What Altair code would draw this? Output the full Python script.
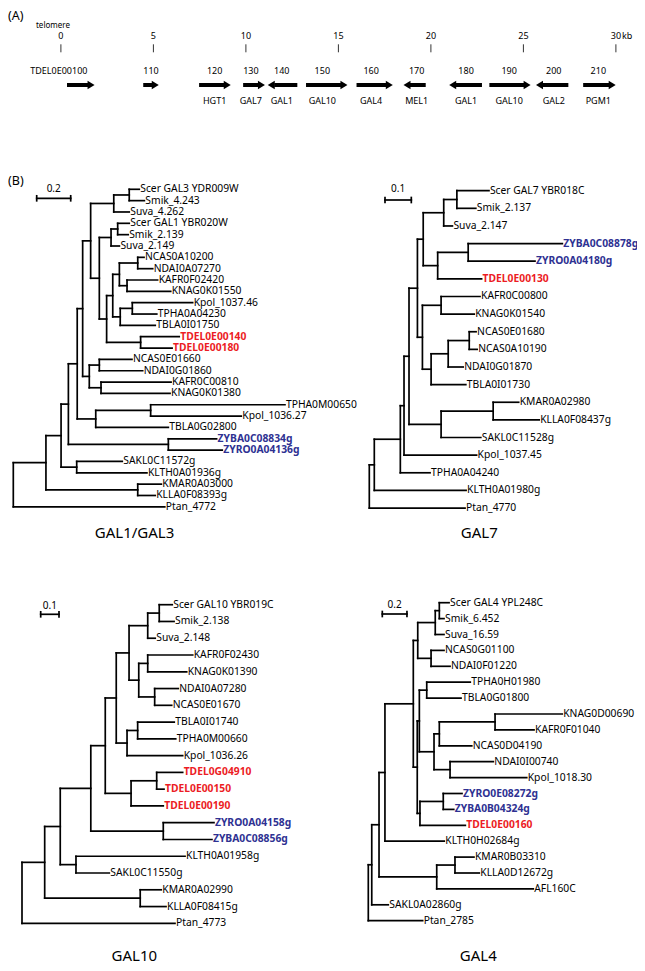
import altair as alt
import pandas as pd

# ---------------- Panel A data: gene map (kb) ----------------
ruler_kb = [0, 5, 10, 15, 20, 25, 30]
ruler_labels = ["0", "5", "10", "15", "20", "25", "30"]
gene_ids = ["TDEL0E00100", "110", "120", "130", "140", "150", "160", "170", "180", "190", "200", "210"]
gene_names = ["", "", "HGT1", "GAL7", "GAL1", "GAL10", "GAL4", "MEL1", "GAL1", "GAL10", "GAL2", "PGM1"]
gene_start_kb = [0.33, 4.45, 7.47, 9.85, 11.18, 13.25, 15.98, 18.52, 20.99, 23.16, 25.68, 28.23]
gene_end_kb = [1.82, 5.29, 9.18, 11.03, 12.78, 15.49, 17.94, 19.72, 22.76, 25.39, 27.43, 29.99]
gene_strand = ["+", "+", "+", "+", "-", "+", "+", "-", "-", "+", "-", "+"]
gene_label_kb = [-0.11, 4.87, 8.31, 10.27, 11.94, 14.13, 16.77, 19.23, 21.90, 24.23, 26.64, 29.05]

# ---------------- Panel B data: trees (cumulative branch length from root) ----------------
# internal node = (depth, [children]); leaf = (name, depth)
tree_gal1 = (0, [
    (0.192, [
        (0.281, [
            (0.324, [
                (0.376, [
                    (0.408, [
                        (0.455, [
                            (0.591, [(0.682, [("Scer GAL3 YDR009W", 0.741), ("Smik_4.243", 0.771)]), ("Suva_4.262", 0.682)]),
                            (0.506, [
                                (0.575, [(0.614, [("Scer GAL1 YBR020W", 0.682), ("Smik_2.139", 0.676)]), ("Suva_2.149", 0.624)]),
                                (0.549, [
                                    (0.585, [
                                        (0.624, [(0.732, [("NCAS0A10200", 0.769), ("NDAI0A07270", 0.820)]),
                                                 (0.669, [("KAFR0F02420", 0.849), ("KNAG0K01550", 0.926)])]),
                                        (0.629, [(0.700, [("Kpol_1037.46", 1.055), ("TPHA0A04230", 0.844)]), ("TBLA0I01750", 0.835)]),
                                    ]),
                                    (0.749, [("TDEL0E00140", 0.976), ("TDEL0E00180", 0.934)]),
                                ]),
                            ]),
                        ]),
                        (0.447, [
                            (0.506, [("NCAS0E01660", 0.698), ("NDAI0G01860", 0.761)]),
                            (0.516, [("KAFR0C00810", 0.928), ("KNAG0K01380", 0.922)]),
                        ]),
                    ]),
                    (0.485, [(0.808, [("TPHA0M00650", 1.598), ("Kpol_1036.27", 1.341)]), ("TBLA0G02800", 0.912)]),
                ]),
                (0.912, [("ZYBA0C08834g", 1.196), ("ZYRO0A04136g", 1.229)]),
            ]),
            (0.373, [("SAKL0C11572g", 0.641), ("KLTH0A01936g", 0.786)]),
        ]),
        (0.732, [("KMAR0A03000", 0.871), ("KLLA0F08393g", 0.835)]),
    ]),
    ("Ptan_4772", 0.891),
])

tree_gal7 = (0, [
    (0.019, [
        (0.118, [
            (0.132, [
                (0.151, [
                    (0.183, [
                        (0.205, [
                            (0.283, [(0.333, [("Scer GAL7 YBR018C", 0.455), ("Smik_2.137", 0.405)]), ("Suva_2.147", 0.316)]),
                            (0.260, [(0.376, [("ZYBA0C08878g", 0.734), ("ZYRO0A04180g", 0.630)]), ("TDEL0E00130", 0.427)]),
                        ]),
                        (0.202, [
                            (0.273, [("KAFR0C00800", 0.421), ("KNAG0K01540", 0.399)]),
                            (0.235, [(0.300, [(0.380, [("NCAS0E01680", 0.406), ("NCAS0A10190", 0.410)]),
                                              ("NDAI0G01870", 0.357)]), ("TBLA0I01730", 0.367)]),
                        ]),
                    ]),
                    (0.273, [(0.471, [("KMAR0A02980", 0.568), ("KLLA0F08437g", 0.646)]), ("SAKL0C11528g", 0.424)]),
                ]),
                ("Kpol_1037.45", 0.408),
            ]),
            ("TPHA0A04240", 0.231),
        ]),
        ("KLTH0A01980g", 0.368),
    ]),
    ("Ptan_4770", 0.364),
])

tree_gal10 = (0, [
    (0.124, [
        (0.209, [
            (0.376, [
                (0.455, [
                    (0.515, [
                        (0.585, [
                            (0.687, [(0.750, [("Scer GAL10 YBR019C", 0.821), ("Smik_2.138", 0.831)]), ("Suva_2.148", 0.728)]),
                            (0.638, [(0.687, [("KAFR0F02430", 0.933), ("KNAG0K01390", 0.900)]),
                                     (0.725, [("NDAI0A07280", 0.854), ("NCAS0E01670", 0.818)])]),
                        ]),
                        (0.574, [(0.632, [("TBLA0I01740", 0.832), ("TPHA0M00660", 0.840)]), ("Kpol_1036.26", 0.878)]),
                    ]),
                    (0.596, [(0.736, [("TDEL0G04910", 0.878), ("TDEL0E00150", 0.776)]), ("TDEL0E00190", 0.772)]),
                ]),
                (0.772, [("ZYRO0A04158g", 1.049), ("ZYBA0C08856g", 1.038)]),
            ]),
            (0.295, [("KLTH0A01958g", 0.891), ("SAKL0C11550g", 0.477)]),
        ]),
        (0.646, [("KMAR0A02990", 0.761), ("KLLA0F08415g", 0.787)]),
    ]),
    ("Ptan_4773", 0.836),
])

tree_gal4 = (0, [
    (0.028, [
        (0.087, [
            (0.135, [
                (0.365, [
                    (0.401, [
                        (0.543, [(0.576, [("Scer GAL4 YPL248C", 0.655), ("Smik_6.452", 0.614)]), ("Suva_16.59", 0.614)]),
                        (0.509, [("NCAS0G01100", 0.614), ("NDAI0F01220", 0.663)]),
                    ]),
                    (0.397, [
                        (0.414, [
                            (0.474, [("TPHA0H01980", 0.827), ("TBLA0G01800", 0.752)]),
                            (0.533, [
                                (0.576, [(1.028, [("KNAG0D00690", 1.573), ("KAFR0F01040", 1.344)]), ("NCAS0D04190", 0.839)]),
                                (0.663, [("NDAI0I00740", 1.014), ("Kpol_1018.30", 1.285)]),
                            ]),
                        ]),
                        (0.419, [(0.608, [("ZYRO0E08272g", 0.760), ("ZYBA0B04324g", 0.693)]), ("TDEL0E00160", 0.787)]),
                    ]),
                ]),
                ("KLTH0H02684g", 0.616),
            ]),
            (0.555, [(0.703, [("KMAR0B03310", 0.857), ("KLLA0D12672g", 0.900)]), ("AFL160C", 1.338)]),
        ]),
        ("SAKL0A02860g", 0.162),
    ]),
    ("Ptan_2785", 0.441),
])

tree_titles = ["GAL1/GAL3", "GAL7", "GAL10", "GAL4"]
scalebar_len = [0.2, 0.1, 0.1, 0.2]
scalebar_text = ["0.2", "0.1", "0.1", "0.2"]

# ---------------- layout (page pixels) ----------------
W, H = 629, 955
FONT = "Noto Sans"
RED, BLUE = "#ec1c24", "#2e3192"
A_X0, A_PPKB = 60.9, 18.5
A_Y_RULERTXT, A_Y_TICK0, A_Y_TICK1 = 35.7, 44.3, 52.3
A_Y_ID, A_Y_ARROW, A_Y_NAME = 70.8, 85.0, 100.5
HEAD_LEN, HEAD_H = 7.0, 8.5

tree_layout = [
    dict(x0=13.3, ppu=170.0, y0=189.3, dy=11.34, sbx=36.7, sby=198.3, sty=188.5, tx=134.5, ty=533.3),
    dict(x0=369.3, ppu=263.0, y0=190.7, dy=17.63, sbx=385.0, sby=200.0, sty=188.5, tx=479.3, ty=533.3),
    dict(x0=22.0, ppu=183.0, y0=604.7, dy=16.77, sbx=40.7, sby=614.3, sty=605.5, tx=134.3, ty=955.5),
    dict(x0=368.3, ppu=123.3, y0=602.7, dy=15.90, sbx=382.3, sby=614.0, sty=604.5, tx=478.3, ty=955.5),
]
trees = [tree_gal1, tree_gal7, tree_gal10, tree_gal4]


def build_tree(tree, lay):
    segs, labs = [], []
    count = [0]

    def rec(node):
        if isinstance(node[0], str):
            name, d = node
            x = lay["x0"] + d * lay["ppu"]
            y = lay["y0"] + count[0] * lay["dy"]
            count[0] += 1
            grp = "red" if name.startswith("TDEL") else ("blue" if name.startswith("ZY") else "black")
            labs.append(dict(x=x, y=y, text=name, grp=grp))
            return x, y
        d, kids = node
        x = lay["x0"] + d * lay["ppu"]
        pts = [rec(k) for k in kids]
        for cx, cy in pts:
            segs.append(dict(x=x, x2=cx, y=cy, y2=cy))
        segs.append(dict(x=x, x2=x, y=pts[0][1], y2=pts[-1][1]))
        return x, (pts[0][1] + pts[-1][1]) / 2

    rec(tree)
    return segs, labs


seg_rows, lab_rows, sb_rows, sbt_rows, sbtick_rows, title_rows = [], [], [], [], [], []
for t, lay, L, st, ttl in zip(trees, tree_layout, scalebar_len, scalebar_text, tree_titles):
    s, l = build_tree(t, lay)
    seg_rows += s
    lab_rows += l
    x1 = lay["sbx"]
    x2 = x1 + L * lay["ppu"]
    sb_rows.append(dict(x=x1, x2=x2, y=lay["sby"], y2=lay["sby"]))
    for xx in (x1, x2):
        sbtick_rows.append(dict(x=xx, x2=xx, y=lay["sby"] - 2.5, y2=lay["sby"] + 2.5))
    sbt_rows.append(dict(x=(x1 + x2) / 2, y=lay["sty"], text=st))
    title_rows.append(dict(x=lay["tx"], y=lay["ty"], text=ttl))

segs = pd.DataFrame(seg_rows + sb_rows + sbtick_rows)
labs = pd.DataFrame(lab_rows)
labs_plain = labs[labs["grp"] == "black"]
labs_col = labs[labs["grp"] != "black"]
sbt = pd.DataFrame(sbt_rows)
titles = pd.DataFrame(title_rows)


def kbx(k):
    return A_X0 + k * A_PPKB


ruler = pd.DataFrame(dict(x=[kbx(k) for k in ruler_kb], text=ruler_labels))
ruler["y"] = A_Y_RULERTXT
ruler["y0"] = A_Y_TICK0
ruler["y1"] = A_Y_TICK1

xs_px = [kbx(k) for k in gene_start_kb]
xe_px = [kbx(k) for k in gene_end_kb]
fwd = [s == "+" for s in gene_strand]
hx = HEAD_LEN / HEAD_H
genes = pd.DataFrame(dict(
    gid=gene_ids, gname=gene_names,
    xl=[kbx(k) for k in gene_label_kb],
    shaft0=[a if f else a + HEAD_LEN - 0.5 for a, f in zip(xs_px, fwd)],
    shaft1=[b - HEAD_LEN + 0.5 if f else b for b, f in zip(xe_px, fwd)],
    hx=[b - HEAD_LEN / 2 if f else a + HEAD_LEN / 2 for a, b, f in zip(xs_px, xe_px, fwd)],
    shp=[(f"M-{hx:.3f},-1L{hx:.3f},0L-{hx:.3f},1Z" if f else f"M{hx:.3f},-1L-{hx:.3f},0L{hx:.3f},1Z") for f in fwd],
))
genes["ya"] = A_Y_ARROW
genes["yid"] = A_Y_ID
genes["yname"] = A_Y_NAME

misc = pd.DataFrame([
    dict(x=8, y=15.5, text="(A)"),
    dict(x=8, y=180.7, text="(B)"),
])
telomere = pd.DataFrame([dict(x=kbx(-0.43), y=26.0, text="telomere")])
kb_lab = pd.DataFrame([dict(x=kbx(30) + 6.0, y=A_Y_RULERTXT, text="kb")])

XS = alt.Scale(domain=[8, 8 + W], nice=False, zero=False)
YS = alt.Scale(domain=[8, 8 + H], nice=False, zero=False, reverse=True)


def X(f):
    return alt.X(f, type="quantitative", scale=XS, axis=None)


def Y(f):
    return alt.Y(f, type="quantitative", scale=YS, axis=None)


def txt(df, size, align="center", **kw):
    return alt.Chart(df).mark_text(align=align, baseline="middle", font=FONT, fontSize=size,
                                   color="black", **kw)


layers = []
layers.append(alt.Chart(segs).mark_rule(color="black", strokeWidth=1.7, strokeCap="square").encode(
    x=X("x"), x2="x2:Q", y=Y("y"), y2="y2:Q"))
layers.append(txt(labs_plain, 10.3, align="left", dx=1).encode(x=X("x"), y=Y("y"), text="text:N"))
layers.append(alt.Chart(labs_col).mark_text(align="left", baseline="middle", dx=1, font=FONT,
                                            fontSize=10.3, fontWeight="bold").encode(
    x=X("x"), y=Y("y"), text="text:N",
    color=alt.Color("grp:N", scale=alt.Scale(domain=["red", "blue"], range=[RED, BLUE]), legend=None)))
layers.append(txt(sbt, 10).encode(x=X("x"), y=Y("y"), text="text:N"))
layers.append(txt(titles, 15).encode(x=X("x"), y=Y("y"), text="text:N"))
# panel A
layers.append(alt.Chart(ruler).mark_rule(color="#333333", strokeWidth=1).encode(
    x=X("x"), y=Y("y0"), y2="y1:Q"))
layers.append(txt(ruler, 9).encode(x=X("x"), y=Y("y"), text="text:N"))
layers.append(txt(kb_lab, 9, align="left").encode(x=X("x"), y=Y("y"), text="text:N"))
layers.append(txt(telomere, 8).encode(x=X("x"), y=Y("y"), text="text:N"))
layers.append(alt.Chart(genes).mark_rule(color="black", strokeWidth=4, strokeCap="butt").encode(
    x=X("shaft0"), x2="shaft1:Q", y=Y("ya")))
layers.append(alt.Chart(genes).mark_point(filled=True, opacity=1, color="black", size=HEAD_H ** 2,
                                          strokeWidth=0).encode(
    x=X("hx"), y=Y("ya"), shape=alt.Shape("shp:N", scale=None)))
layers.append(txt(genes, 9).encode(x=X("xl"), y=Y("yid"), text="gid:N"))
layers.append(txt(genes, 9).encode(x=X("xl"), y=Y("yname"), text="gname:N"))
layers.append(txt(misc, 12.5, align="left").encode(x=X("x"), y=Y("y"), text="text:N"))

chart = alt.layer(*layers).properties(
    width=W, height=H, padding=0, autosize=alt.AutoSizeParams(type="none")
).configure_view(stroke=None)

chart.save("out.html", embed_options={"renderer": "svg", "actions": False})
